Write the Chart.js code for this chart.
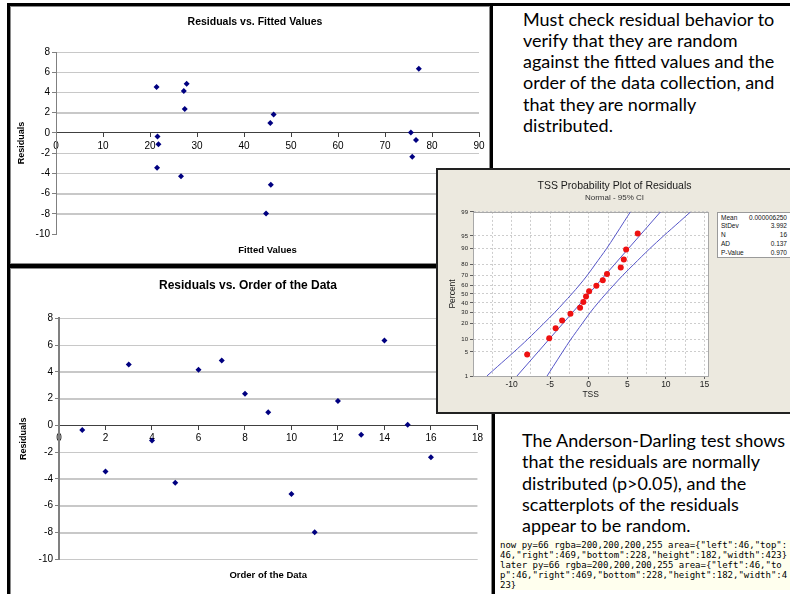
<!DOCTYPE html>
<html>
<head>
<meta charset="utf-8">
<script src="https://cdn.jsdelivr.net/npm/chart.js@4.4.1/dist/chart.umd.min.js"></script>
<style>
  html, body { margin: 0; padding: 0; background: #fff; }
  body { width: 790px; height: 594px; position: relative; overflow: hidden; }
  .frame { position: absolute; border: 3px solid #000; box-sizing: border-box; z-index: 1; }
  .frame .inner { position: absolute; left: 0; top: 0; right: 0; bottom: 0; border: 1px solid #8a8a8a; }
  canvas { position: absolute; }
  .note { position: absolute; font-family: Lato, "Open Sans", sans-serif; font-size: 18px; line-height: 21.3px; color: #000; white-space: nowrap; z-index: 1; }
  #inset { position: absolute; left: 436px; top: 168px; width: 360px; height: 246px; box-sizing: border-box;
           border: 2px solid #222; background: #ece9df; z-index: 3; }
  #stats { position: absolute; left: 717px; top: 212px; width: 80px; height: 46px; box-sizing: border-box;
           border: 1px solid #9a9a9a; background: #fff; z-index: 5;
           font-family: "Liberation Sans", Arial, sans-serif; font-size: 6.5px; color: #111; padding-top: 0.5px; }
  #stats div { display: flex; justify-content: space-between; width: 66px; margin-left: 3px; height: 8.75px; line-height: 8.75px; }
  #dbg { position: absolute; left: 500px; top: 540px; width: 290px; font: 9px monospace; white-space: pre-wrap; word-break: break-all; z-index: 9; background: #ffe; }
</style>
</head>
<body>

<div class="frame" style="left:7px; top:3px; width:486px; height:264px;"><div class="inner"></div></div>
<div class="frame" style="left:7px; top:265px; width:488px; height:340px;"><div class="inner"></div></div>
<div style="position:absolute; left:490px; top:3px; width:300px; height:3px; background:#000;"></div>

<canvas id="fitted" width="490" height="258" style="left:10px; top:6px; z-index:2;"></canvas>
<canvas id="order" width="476" height="325" style="left:10px; top:269px; z-index:2;"></canvas>

<div id="inset"></div>
<canvas id="prob" width="351" height="240" style="left:439px; top:171px; z-index:4;"></canvas>
<div id="stats">
  <div><span>Mean</span><span>0.000006250</span></div>
  <div><span>StDev</span><span>3.992</span></div>
  <div><span>N</span><span>16</span></div>
  <div><span>AD</span><span>0.137</span></div>
  <div><span>P-Value</span><span>0.970</span></div>
</div>

<div class="note" style="left:523px; top:8.6px;">
  Must check residual behavior to<br>
  verify that they are random<br>
  against the fitted values and the<br>
  order of the data collection, and<br>
  that they are normally<br>
  distributed.
</div>
<div class="note" style="left:522px; top:430px;">
  The Anderson-Darling test shows<br>
  that the residuals are normally<br>
  distributed (p&gt;0.05), and the<br>
  scatterplots of the residuals<br>
  appear to be random.
</div>
<div id="dbg"></div>

<script>
// residuals in order of data collection
const orderIndex = [1, 2, 3, 4, 5, 6, 7, 8, 9, 10, 11, 12, 13, 14, 15, 16];
const fittedValues = [21.6, 21.5, 21.4, 21.8, 26.6, 27.2, 27.8, 27.4, 45.6, 45.7, 44.7, 46.3, 76.6, 77.2, 75.5, 75.8];
const residuals = [-0.35, -3.45, 4.55, -1.12, -4.29, 4.15, 4.85, 2.37, 0.99, -5.12, -7.98, 1.82, -0.70, 6.35, 0.05, -2.37];

// probability plot
const sortedResiduals = [-7.98, -5.12, -4.29, -3.45, -2.37, -1.12, -0.70, -0.35, 0.05, 0.99, 1.82, 2.37, 4.15, 4.55, 4.85, 6.35];
const plotPercents = [4.3, 10.4, 16.5, 22.6, 28.7, 34.8, 40.9, 47.0, 53.0, 59.1, 65.2, 71.3, 77.4, 83.5, 89.6, 95.7];
const fitLinePercents = [1, 99];
const fitLineX = [-9.3, 9.3];
const bandPercents = [1, 2, 5, 10, 20, 30, 40, 50, 60, 70, 80, 90, 95, 98, 99];
const lowerBandX = [-13.2, -11.8, -9.7, -7.9, -5.85, -4.4, -3.25, -2.2, -1.2, -0.2, 0.85, 2.3, 3.4, 4.6, 5.4];
const upperBandX = [-5.4, -4.6, -3.4, -2.3, -0.85, 0.2, 1.2, 2.2, 3.25, 4.4, 5.85, 7.9, 9.7, 11.8, 13.2];
const percentTicks = [1, 5, 10, 20, 30, 40, 50, 60, 70, 80, 90, 95, 99];
const tssGrid = [-12.5, -10, -7.5, -5, -2.5, 0, 2.5, 5, 7.5, 10, 12.5, 15];
const tssLabels = [-10, -5, 0, 5, 10, 15];

const excelFont = 'Liberation Sans, Arial, sans-serif';
const navy = '#000080';

// inverse normal cdf (Acklam), used to put percents on a normal probability axis
function probit(p) {
  const a = [-39.69683028665376, 220.9460984245205, -275.9285104469687, 138.3577518672690, -30.66479806614716, 2.506628277459239];
  const b = [-54.47609879822406, 161.5858368580409, -155.6989798598866, 66.80131188771972, -13.28068155288572];
  const c = [-0.007784894002430293, -0.3223964580411365, -2.400758277161838, -2.549732539343734, 4.374664141464968, 2.938163982698783];
  const d = [0.007784695709041462, 0.3224671290700398, 2.445134137142996, 3.754408661907416];
  const pl = 0.02425;
  let q, r;
  if (p < pl) {
    q = Math.sqrt(-2 * Math.log(p));
    return (((((c[0]*q+c[1])*q+c[2])*q+c[3])*q+c[4])*q+c[5]) / ((((d[0]*q+d[1])*q+d[2])*q+d[3])*q+1);
  }
  if (p > 1 - pl) {
    q = Math.sqrt(-2 * Math.log(1 - p));
    return -(((((c[0]*q+c[1])*q+c[2])*q+c[3])*q+c[4])*q+c[5]) / ((((d[0]*q+d[1])*q+d[2])*q+d[3])*q+1);
  }
  q = p - 0.5; r = q * q;
  return (((((a[0]*r+a[1])*r+a[2])*r+a[3])*r+a[4])*r+a[5])*q / (((((b[0]*r+b[1])*r+b[2])*r+b[3])*r+b[4])*r+1);
}
const z = pct => probit(pct / 100);

// empty axis used only to reserve space on the right
function spacer(size) {
  return {
    type: 'linear', position: 'right',
    ticks: { display: false }, grid: { display: false }, border: { display: false },
    afterFit: s => { s.width = size; }
  };
}

// horizontal gridlines, painted behind what is already drawn
const hGrid = {
  id: 'hGrid',
  afterDraw(chart, args, o) {
    const { ctx, chartArea: a } = chart;
    const y = chart.scales.y;
    ctx.save();
    ctx.globalCompositeOperation = 'destination-over';
    ctx.strokeStyle = '#c8c8c8';
    ctx.lineWidth = 1;
    y.ticks.forEach(t => {
      if (t.value === 0 || (o.hideBottom && t.value === -10)) return;
      const py = Math.round(y.getPixelForValue(t.value)) + 0.5;
      ctx.beginPath();
      ctx.moveTo(a.left, py);
      ctx.lineTo(a.right, py);
      ctx.stroke();
    });
    ctx.restore();
  }
};

function residualChart(id, xs, opts) {
  return new Chart(document.getElementById(id), {
    type: 'scatter',
    data: {
      datasets: [{
        data: xs.map((x, i) => ({ x: x, y: residuals[i] })),
        pointStyle: 'rectRot',
        pointRadius: 3,
        backgroundColor: navy,
        borderColor: navy,
        borderWidth: 0
      }]
    },
    options: {
      responsive: false,
      animation: false,
      events: [],
      plugins: {
        legend: { display: false },
        tooltip: { enabled: false },
        hGrid: { hideBottom: opts.hideBottomGrid },
        title: {
          display: true, text: opts.title, color: '#000',
          font: { family: excelFont, size: opts.titleSize, weight: 'bold' },
          padding: opts.titlePad
        }
      },
      scales: {
        x: {
          type: 'linear',
          position: { y: 0 },
          min: 0, max: opts.xMax,
          ticks: { stepSize: opts.xStep, padding: 3, maxRotation: 0, color: '#000', font: { family: excelFont, size: 10 } },
          grid: { drawOnChartArea: false, drawTicks: true, tickLength: 4, tickColor: '#404040' },
          border: { color: '#404040', width: 1 }
        },
        xTitle: {
          type: 'linear', position: 'bottom',
          ticks: { display: false }, grid: { display: false }, border: { display: false },
          afterFit: s => { s.height = opts.xTitleHeight; },
          title: {
            display: true, text: opts.xTitle, color: '#000',
            font: { family: excelFont, size: 9.5, weight: 'bold' },
            padding: { top: 0, bottom: opts.xTitleBottom }
          }
        },
        y: {
          position: 'left',
          min: -10, max: 8,
          afterFit: s => { s.width = opts.yWidth; },
          ticks: { stepSize: 2, padding: 2, color: '#000', font: { family: excelFont, size: 10 } },
          grid: {
            color: c => (opts.hideBottomGrid && c.tick && c.tick.value === -10) ? 'rgba(0,0,0,0)' : '#c8c8c8',
            tickLength: 4, tickColor: '#808080'
          },
          border: { color: '#808080', width: opts.yBorder },
          title: {
            display: true, text: 'Residuals', color: '#000',
            font: { family: excelFont, size: 9, weight: 'bold' },
            padding: { top: opts.yTitlePad, bottom: 0 }
          }
        },
        yRight: spacer(opts.padRight)
      }
    },
    plugins: [hGrid]
  });
}

const fittedChart = residualChart('fitted', fittedValues, {
  title: 'Residuals vs. Fitted Values', titleSize: 10.5, titlePad: { top: 9.4, bottom: 24 },
  xTitle: 'Fitted Values', xTitleHeight: 30, xTitleBottom: 8.3,
  xMax: 90, xStep: 10, padRight: 21, yWidth: 46, yTitlePad: 6.6, yBorder: 1, hideBottomGrid: true
});

residualChart('order', orderIndex, {
  title: 'Residuals vs. Order of the Data', titleSize: 12, titlePad: { top: 9.8, bottom: 25.1 },
  xTitle: 'Order of the Data', xTitleHeight: 34.7, xTitleBottom: 12.6,
  xMax: 18, xStep: 2, padRight: 5.7, yWidth: 49, yTitlePad: 8.6, yBorder: 2, hideBottomGrid: false
});

const plotFrame = {
  id: 'plotFrame',
  beforeDraw(chart) {
    const { ctx, chartArea: a } = chart;
    ctx.save();
    ctx.fillStyle = '#fff';
    ctx.fillRect(a.left, a.top, a.right - a.left, a.bottom - a.top);
    ctx.restore();
  },
  beforeDatasetsDraw(chart) {
    const { ctx, chartArea: a } = chart;
    ctx.save();
    ctx.strokeStyle = '#a8a8a8';
    ctx.lineWidth = 1;
    ctx.strokeRect(Math.round(a.left) + 0.5, Math.round(a.top) + 0.5, Math.round(a.right - a.left), Math.round(a.bottom - a.top));
    ctx.restore();
  }
};

const ciBlue = '#5656c8';
const minitabFont = 'Liberation Sans, Arial, sans-serif';

new Chart(document.getElementById('prob'), {
  type: 'scatter',
  data: {
    datasets: [
      {
        data: sortedResiduals.map((x, i) => ({ x: x, y: z(plotPercents[i]) })),
        pointRadius: 3, backgroundColor: '#ee1111', borderWidth: 0
      },
      {
        data: fitLineX.map((x, i) => ({ x: x, y: z(fitLinePercents[i]) })),
        showLine: true, pointRadius: 0, borderColor: ciBlue, borderWidth: 1
      },
      {
        data: lowerBandX.map((x, i) => ({ x: x, y: z(bandPercents[i]) })),
        showLine: true, pointRadius: 0, borderColor: ciBlue, borderWidth: 1, tension: 0.3
      },
      {
        data: upperBandX.map((x, i) => ({ x: x, y: z(bandPercents[i]) })),
        showLine: true, pointRadius: 0, borderColor: ciBlue, borderWidth: 1, tension: 0.3
      }
    ]
  },
  options: {
    responsive: false,
    animation: false,
    events: [],
    plugins: {
      legend: { display: false },
      tooltip: { enabled: false },
      title: {
        display: true, text: 'TSS Probability Plot of Residuals', color: '#1a1a1a',
        font: { family: minitabFont, size: 10.5, weight: 'normal' },
        padding: { top: 8.7, bottom: 0 }
      },
      subtitle: {
        display: true, text: 'Normal - 95% CI', color: '#333',
        font: { family: minitabFont, size: 8 },
        padding: { top: 0.2, bottom: 9.8 }
      }
    },
    scales: {
      x: {
        type: 'linear',
        min: -15, max: 15.5,
        afterBuildTicks: s => { s.ticks = tssGrid.map(value => ({ value })); },
        afterFit: s => { s.height = 35; },
        ticks: {
          autoSkip: false, maxRotation: 0, padding: 1, color: '#222',
          font: { family: minitabFont, size: 8.5 },
          callback: v => tssLabels.includes(v) ? String(v) : ''
        },
        grid: {
          color: '#cdcdcd', tickLength: 3,
          tickColor: c => (c.tick && tssLabels.includes(c.tick.value)) ? '#606060' : 'rgba(0,0,0,0)'
        },
        border: { color: '#707070', dash: [2, 2] },
        title: {
          display: true, text: 'TSS', color: '#222',
          font: { family: minitabFont, size: 8.5 },
          padding: { top: 0, bottom: 10.9 }
        }
      },
      y: {
        type: 'linear',
        min: z(percentTicks[0]), max: z(percentTicks[percentTicks.length - 1]),
        afterBuildTicks: s => { s.ticks = percentTicks.map(p => ({ value: z(p) })); },
        afterFit: s => { s.width = 34; },
        ticks: {
          autoSkip: false, padding: 2, color: '#222',
          font: { family: minitabFont, size: 6 },
          callback: (v, i) => String(percentTicks[i])
        },
        grid: { color: '#cdcdcd', tickLength: 3, tickColor: '#606060' },
        border: { color: '#707070', dash: [2, 2] },
        title: {
          display: true, text: 'Percent', color: '#222',
          font: { family: minitabFont, size: 8.5 },
          padding: { top: 9, bottom: 0 }
        }
      },
      yRight: spacer(81.7)
    }
  },
  plugins: [plotFrame]
});

// diagnostic: sample pixels along the "6" gridline of the first chart
function sample(tag) {
  const cv = document.getElementById('fitted');
  const y = fittedChart.scales.y;
  const py = Math.round(y.getPixelForValue(6));
  const px = cv.getContext('2d').getImageData(100, py, 1, 1).data;
  return tag + ' py=' + py + ' rgba=' + Array.from(px).join(',') + ' area=' + JSON.stringify(fittedChart.chartArea);
}
const dbg = document.getElementById('dbg');
dbg.textContent = sample('now');
setTimeout(() => { dbg.textContent += '\n' + sample('later'); }, 300);
</script>
</body>
</html>
